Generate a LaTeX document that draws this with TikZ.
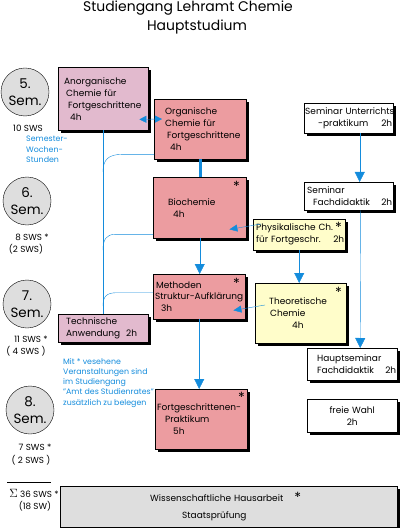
\documentclass[tikz,border=0pt]{standalone}
\usepackage{fontspec}
\setmainfont{Poppins}
\usetikzlibrary{arrows.meta,shadows,calc}

\definecolor{lila}{RGB}{226,186,206}
\definecolor{lachs}{RGB}{236,156,160}
\definecolor{gelb}{RGB}{255,253,202}
\definecolor{grau}{RGB}{222,222,222}
\definecolor{blau}{RGB}{20,140,220}

\newcommand{\titelfont}{\fontsize{14}{16}\selectfont}
\newcommand{\fachfont}{\fontsize{9}{12}\selectfont}
\newcommand{\semfont}{\fontsize{13.5}{17}\selectfont}
\newcommand{\swsfont}{\fontsize{8.8}{10}\selectfont}
\newcommand{\hinweisfont}{\fontsize{7.9}{10.3}\selectfont}
\newcommand{\sternfont}{\fontsize{14}{14}\selectfont}
\hyphenpenalty=10000
\exhyphenpenalty=10000

\tikzset{
  fach/.style={draw, anchor=north west, align=left, inner xsep=1bp, inner ysep=0pt,
    font=\fachfont, drop shadow={shadow xshift=3bp, shadow yshift=-3bp, fill=black, opacity=1}},
  sem/.style={circle, draw, fill=grau, minimum size=48bp, inner sep=0pt, align=center, font=\semfont},
  sws/.style={font=\swsfont, inner sep=0pt},
  hinweis/.style={font=\hinweisfont, text=blau, align=left, anchor=north west, inner sep=0pt},
  stern/.style={font=\sternfont, anchor=base, inner sep=0pt},
  fluss/.style={draw=blau, thin},
  pfeil/.style={fluss, -{Triangle[width=10bp,length=10bp]}},
  kpfeil/.style={fluss, -{Triangle[width=7bp,length=8bp]}},
  dpfeil/.style={fluss, {Triangle[width=7bp,length=7bp]}-{Triangle[width=7bp,length=7bp]}},
}

\begin{document}
\begin{tikzpicture}[x=1bp, y=-1bp]
  \useasboundingbox (0,0) rectangle (400,528);

  % Titel
  \node[font=\titelfont] (titel) at (188,8) {Studiengang Lehramt Chemie};
  \node[font=\titelfont] (untertitel) at (197,27) {Hauptstudium};

  % Semester
  \node[sem] (s5) at (25,92) {5.\\Sem.};
  \node[sem] (s6) at (27,201) {6.\\Sem.};
  \node[sem] (s7) at (27,304) {7.\\Sem.};
  \node[sem] (s8) at (30,410) {8.\\Sem.};

  \node[sws] (sws5) at (28,128) {10 SWS};
  \node[hinweis] (erkl) at (26,136) {Semester-\\Wochen-\\Stunden};
  \node[sws] (sws6) at (32,237) {8 SWS *};
  \node[sws] (sws6b) at (26,249) {(2 SWS)};
  \node[sws] (sws7) at (31,339) {11 SWS *};
  \node[sws] (sws7b) at (26,351) {( 4 SWS )};
  \node[sws] (sws8) at (35,447) {7 SWS *};
  \node[sws] (sws8b) at (31,460) {( 2 SWS )};
  \draw (7,482) -- (51,482);
  \node[sws] (summe) at (34,493) {{\fontsize{12}{12}\selectfont$\Sigma$} 36 SWS *};
  \node[sws] (summeb) at (35,506) {(18 SW)};
  \node[hinweis] (amt) at (63,358) {Mit * vesehene\\Veranstaltungen sind\\im Studiengang\\"Amt des Studienrates"\\zusätzlich zu belegen};

  % Veranstaltungen
  \node[fach, fill=lila, minimum height=63bp, text width=88bp] (anorg) at (58,67)
    {\hspace*{5bp}Anorganische\\\hspace*{7bp}Chemie für\\\hspace*{9bp}Fortgeschrittene\\\hspace*{11bp}4h};
  \node[fach, fill=lachs, minimum height=60bp, text width=90bp] (org) at (154,99)
    {\hspace*{10bp}Organische\\\hspace*{10bp}Chemie für\\\hspace*{12bp}Fortgeschrittene\\\hspace*{15bp}4h};
  \node[fach, fill=lachs, minimum height=61bp, text width=91bp] (bio) at (153,177)
    {\hspace*{14bp}Biochemie\\\hspace*{19bp}4h};
  \node[fach, fill=lachs, minimum height=45bp, text width=90bp] (meth) at (153,274)
    {\hspace*{2bp}Methoden\\\hspace*{1bp}Struktur-Aufklärung\\\hspace*{7bp}3h};
  \node[fach, fill=lachs, minimum height=60bp, text width=90bp] (fort) at (155,389)
    {\hspace*{1bp}Fortgeschrittenen-\\\hspace*{9bp}Praktikum\\\hspace*{17bp}5h};
  \node[fach, fill=lila, minimum height=28bp, text width=88bp] (tech) at (58,314)
    {\hspace*{7bp}Technische\\\hspace*{7bp}Anwendung\ \ 2h};
  \node[fach, fill=gelb, minimum height=31bp, text width=90bp] (phys) at (253,219)
    {\hspace*{2bp}\mbox{Physikalische Ch.}\\\hspace*{2bp}für Fortgeschr.\hfill 2h\hspace*{2bp}};
  \node[fach, fill=gelb, minimum height=60bp, text width=89bp] (theo) at (255,283)
    {\hspace*{13bp}Theoretische\\\hspace*{14bp}Chemie\\\hspace*{36bp}4h};
  \node[fach, fill=white, minimum height=30bp, text width=87bp] (semu) at (304,103)
    {\mbox{Seminar Unterrichts}\\\hspace*{13bp}-praktikum\hfill 2h\hspace*{2bp}};
  \node[fach, fill=white, minimum height=28bp, text width=87bp] (semf) at (304,182)
    {\hspace*{2bp}Seminar\\\hspace*{8bp}Fachdidaktik\hfill 2h\hspace*{2bp}};
  \node[fach, fill=white, minimum height=32bp, text width=88bp] (haupt) at (307,348)
    {\hspace*{9bp}Hauptseminar\\\hspace*{9bp}Fachdidaktik\hfill 2h\hspace*{2bp}};
  \node[fach, fill=white, align=center, minimum height=33bp, text width=88bp] (wahl) at (307,399)
    {freie Wahl\\2h};
  \node[fach, fill=grau, minimum height=41bp, text width=335bp] (wiss) at (60,486)
    {\hspace*{89bp}Wissenschaftliche Hausarbeit\hspace{11bp}{\sternfont\raisebox{-1bp}{*}}\\[5bp]\hspace*{121bp}Staatsprüfung};

  % Sterne
  \node[stern] (bio-s) at ($(bio.north east)+(-10,15)$) {\smash{*}};
  \node[stern] (meth-s) at ($(meth.north east)+(-9,14)$) {\smash{*}};
  \node[stern] (fort-s) at ($(fort.north east)+(-6,13)$) {\smash{*}};
  \node[stern] (phys-s) at ($(phys.north east)+(-7,13)$) {\smash{*}};
  \node[stern] (theo-s) at ($(theo.north east)+(-8,14)$) {\smash{*}};

  % Verbindungen
  \coordinate (m1) at (103,172);
  \coordinate (m2) at (103,250);
  \coordinate (m3) at (103,306);
  \draw[fluss] (anorg.south) -- (tech.north);
  \draw[fluss] ($(org.south west)+(0,-5)$) -- ++(-32,0) .. controls +(-14,0) and +(0,-12) .. (m1);
  \draw[fluss] ($(bio.south west)+(0,-4)$) -- ++(-38,0) .. controls +(-9,0) and +(0,-10) .. (m2);
  \draw[fluss] ($(meth.west)+(0,-4)$) -- ++(-36,0) .. controls +(-10,0) and +(0,-10) .. (m3);
  \draw[dpfeil] ($(anorg.south east)+(-9,-11)$) -- ($(org.north west)+(8,20)$);
  \draw[draw=blau, line width=3bp] (org.south) -- (org.south |- bio.north);
  \draw[pfeil] (bio.south) -- (bio.south |- meth.north);
  \draw[pfeil] (meth.south) -- (meth.south |- fort.north);
  \draw[pfeil] (phys.south) -- (phys.south |- theo.north);
  \draw[kpfeil] ($(phys.north west)+(8,5)$) -- ($(bio.south east)+(-17,-9)$);
  \draw[kpfeil] ($(theo.north west)+(10,22)$) -- ($(meth.south east)+(-12,-9)$);
  \draw[pfeil] ($(semu.south)+(11,0)$) -- ($(semf.north)+(11,0)$);
  \draw[pfeil] ($(semf.south)+(12,0)$) -- ($(haupt.north)+(8,0)$);
\end{tikzpicture}
\end{document}
